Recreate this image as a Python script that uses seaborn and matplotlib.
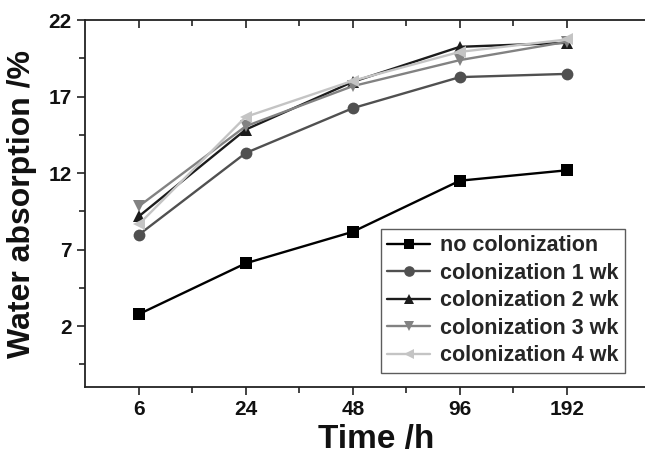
import matplotlib
matplotlib.use("Agg")
import matplotlib.pyplot as plt
import matplotlib.lines as mlines
import seaborn as sns
import pandas as pd
from matplotlib.ticker import FixedLocator

sns.set_style("ticks")
plt.rcParams['font.family'] = ['Liberation Sans', 'DejaVu Sans']
plt.rcParams['font.weight'] = 'bold'

times = ["6", "24", "48", "96", "192"]
no_col = [2.77, 6.1, 8.16, 11.5, 12.18]
col_1wk = [7.96, 13.31, 16.24, 18.27, 18.48]
col_2wk = [9.16, 14.84, 17.96, 20.25, 20.51]
col_3wk = [9.82, 15.06, 17.68, 19.38, 20.58]
col_4wk = [8.64, 15.67, 18.03, 19.92, 20.73]

series_names = ["no colonization", "colonization 1 wk", "colonization 2 wk",
                "colonization 3 wk", "colonization 4 wk"]
series_vals = [no_col, col_1wk, col_2wk, col_3wk, col_4wk]

rows = []
for name, vals in zip(series_names, series_vals):
    for i, v in enumerate(vals):
        rows.append({"pos": i, "value": v, "series": name})
df = pd.DataFrame(rows)

palette = {"no colonization": "#000000", "colonization 1 wk": "#505050",
           "colonization 2 wk": "#1c1c1c", "colonization 3 wk": "#828282",
           "colonization 4 wk": "#c4c4c4"}
markers = {"no colonization": "s", "colonization 1 wk": "o",
           "colonization 2 wk": "^", "colonization 3 wk": "v",
           "colonization 4 wk": "<"}

fig = plt.figure(figsize=(6.45, 4.66), dpi=100)
ax = fig.add_axes([0.132, 0.169, 0.868, 0.788])

sns.lineplot(data=df, x="pos", y="value", hue="series", style="series",
             hue_order=series_names, style_order=series_names,
             palette=palette, markers=markers, dashes=False,
             markersize=8.5, markeredgewidth=0, linewidth=1.7, ax=ax)

ax.set_xlim(-0.5, 4.73)
ax.set_ylim(-2, 22)
major_x = list(range(len(times)))
minor_x = [i + 0.5 for i in range(len(times) - 1)]
ax.xaxis.set_major_locator(FixedLocator(major_x))
ax.set_xticklabels(times)
ax.xaxis.set_minor_locator(FixedLocator(minor_x))
ax.yaxis.set_major_locator(FixedLocator([2, 7, 12, 17, 22]))
ax.yaxis.set_minor_locator(FixedLocator([-0.5, 4.5, 9.5, 14.5, 19.5]))

for s in ["left", "bottom", "top"]:
    ax.spines[s].set_color("#222222")
    ax.spines[s].set_linewidth(1.3)
ax.spines["right"].set_visible(False)

ax.tick_params(axis="both", which="major", labelsize=15, length=6, width=1.2,
               color="#222222", labelcolor="#111111", direction="out")
ax.tick_params(axis="both", which="minor", length=4, width=1.2, color="#222222",
               direction="out")
ax.tick_params(axis="x", which="both", top=False)
for t in ax.get_xticklabels() + ax.get_yticklabels():
    t.set_fontweight("bold")

# inward-pointing tick marks along the top frame line
xtr = ax.get_xaxis_transform()
ax.plot(major_x, [1] * len(major_x), ls="none", marker=mlines.TICKDOWN,
        ms=6, mew=1.2, color="#222222", transform=xtr, clip_on=False, zorder=5)
ax.plot(minor_x, [1] * len(minor_x), ls="none", marker=mlines.TICKDOWN,
        ms=4, mew=1.2, color="#222222", transform=xtr, clip_on=False, zorder=5)

ax.set_xlabel("Time /h", fontsize=24, fontweight="bold", color="#111111")
ax.xaxis.set_label_coords(0.52, -0.1)
ax.set_ylabel("Water absorption /%", fontsize=23, fontweight="bold", labelpad=8, color="#111111")

handles, labels = ax.get_legend_handles_labels()
leg = ax.legend(handles[:len(series_names)], labels[:len(series_names)],
                loc="lower right", bbox_to_anchor=(0.964, 0.04),
                frameon=True, fancybox=False, edgecolor="#333333",
                handlelength=2.0, handletextpad=0.45, labelspacing=0.3,
                borderpad=0.3, borderaxespad=0.0, markerscale=0.9,
                prop={"weight": "bold", "size": 15.5})
leg.get_frame().set_linewidth(1.0)

fig.savefig("out.png", dpi=100)
